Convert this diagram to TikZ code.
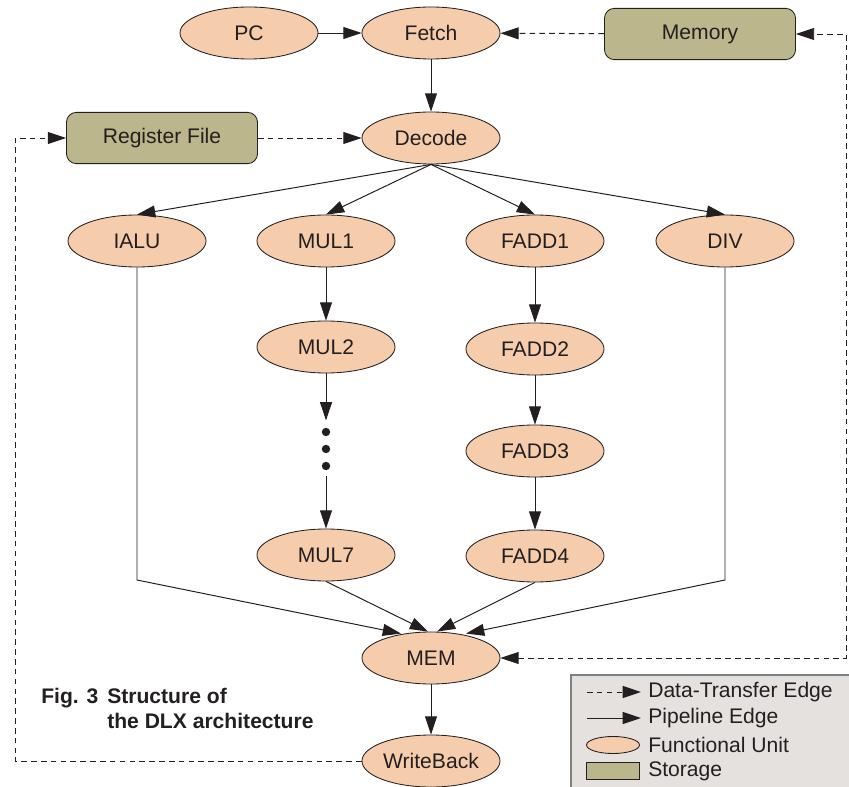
\documentclass[tikz,border=0pt]{standalone}
\usepackage{fontspec}
\setmainfont{Liberation Sans}
\usepackage{xcolor}
\definecolor{unitfill}{HTML}{F6CDAC}
\definecolor{storefill}{HTML}{BCB68C}
\definecolor{legendfill}{HTML}{E5E1DE}
\definecolor{inkcolor}{HTML}{231F20}
\usepackage{tikz}
\usetikzlibrary{arrows.meta, shapes.geometric, positioning, calc}

\tikzset{
  unit/.style={ellipse, draw=inkcolor, line width=0.6pt, fill=unitfill,
    minimum width=3.45cm, minimum height=1.3cm, inner sep=0pt,
    text=inkcolor, font=\fontsize{15}{18}\selectfont},
  storage/.style={rectangle, rounded corners=7pt, draw=inkcolor, line width=0.6pt,
    fill=storefill, minimum width=4.775cm, minimum height=1.28cm, inner sep=0pt,
    text=inkcolor, font=\fontsize{15}{18}\selectfont},
  tip/.tip={Triangle[length=13pt,width=8.5pt]},
  pipe/.style={draw=inkcolor, line width=0.7pt, -tip},
  transfer/.style={pipe, dash pattern=on 4pt off 3pt},
  dotnode/.style={circle, fill=inkcolor, inner sep=0pt, minimum size=6pt},
  lgtext/.style={anchor=west, inner sep=0pt, text=inkcolor, font=\fontsize{15}{18}\selectfont},
  captext/.style={anchor=base west, inner sep=0pt, text=inkcolor, font=\fontsize{15}{18}\selectfont\bfseries}
}

\begin{document}
\begin{tikzpicture}[x=0.025cm, y=-0.025cm]
  \useasboundingbox (0,0) rectangle (849,787);

  % top row and storage
  \node[unit] (pc) at (249,33) {PC};
  \node[unit] (fetch) at (431,33) {Fetch};
  \node[storage] (memory) at (700,34) {Memory};
  \node[storage] (regfile) at (162,138) {Register File};
  \node[unit] (decode) at (431,138) {Decode};

  % functional units
  \node[unit] (ialu) at (137,241) {IALU};
  \node[unit] (mul1) at (326,241) {MUL1};
  \node[unit] (fadd1) at (535,241) {FADD1};
  \node[unit] (div) at (725,241) {DIV};
  \node[unit] (mul2) at (326,347) {MUL2};
  \node[unit] (fadd2) at (535,349) {FADD2};
  \node[unit] (fadd3) at (535,451) {FADD3};
  \node[unit] (mul7) at (326,555) {MUL7};
  \node[unit] (fadd4) at (535,556) {FADD4};
  \node[unit] (mem) at (431,658) {MEM};
  \node[unit] (wb) at (431,761) {WriteBack};

  \node[dotnode] (dot1) at (326,432) {};
  \node[dotnode] (dot2) at (326,449) {};
  \node[dotnode] (dot3) at (326,466) {};

  % pipeline edges
  \draw[pipe] (pc) -- (fetch);
  \draw[pipe] (fetch) -- (decode);
  \draw[pipe] (decode.south) -- (ialu.north);
  \draw[pipe] (decode.south) -- (mul1.north);
  \draw[pipe] (decode.south) -- (fadd1.north);
  \draw[pipe] (decode.south) -- (div.north);
  \draw[pipe] (mul1) -- (mul2);
  \draw[pipe, shorten >=5pt] (mul2) -- (dot1);
  \draw[pipe, shorten <=4pt] (dot3) -- (mul7);
  \draw[pipe] (fadd1) -- (fadd2);
  \draw[pipe] (fadd2) -- (fadd3);
  \draw[pipe] (fadd3) -- (fadd4);
  \coordinate (ialubend) at (137,580);
  \coordinate (divbend) at (725,580);
  \draw[pipe] (ialu.south) -- (ialubend) -- ($(mem.north)+(-30,2)$);
  \draw[pipe] (mul7.south) -- ($(mem.north)+(-3,0)$);
  \draw[pipe] (fadd4.south) -- ($(mem.north)+(6,0)$);
  \draw[pipe] (div.south) -- (divbend) -- ($(mem.north)+(35,2)$);
  \draw[pipe] (mem) -- (wb);

  % data transfer edges
  \coordinate (leftcorner) at (15,138);
  \coordinate (rightcorner) at (846,34);
  \draw[transfer] (memory) -- (fetch);
  \draw[transfer] (regfile) -- (decode);
  \draw[transfer] (wb.west) -| (leftcorner) -- (regfile.west);
  \draw[transfer, tip-tip] (mem.east) -| (rightcorner) -- (memory.east);

  % caption
  \node[captext] (capnum) at (41,703) {Fig. 3};
  \node[captext] (captop) at (107,703) {Structure of};
  \node[captext] (capbot) at (107,728) {the DLX architecture};

  % legend
  \fill[legendfill] (571,675) rectangle (855,792);
  \draw[gray, line width=0.8pt] (571,675) rectangle (855,792);
  \coordinate (lgdashA) at (587,692);
  \coordinate (lgdashB) at (641,692);
  \coordinate (lgpipeA) at (587,718);
  \coordinate (lgpipeB) at (641,718);
  \draw[transfer] (lgdashA) -- (lgdashB);
  \draw[pipe] (lgpipeA) -- (lgpipeB);
  \node[unit, minimum width=1.325cm, minimum height=0.425cm] (lgunit) at (613,745) {};
  \node[storage, sharp corners, minimum width=1.325cm, minimum height=0.425cm] (lgstore) at (613,771) {};
  \node[lgtext] (lgtransfer) at (648,692) {Data-Transfer Edge};
  \node[lgtext] (lgpipe) at (648,718) {Pipeline Edge};
  \node[lgtext] (lgfu) at (648,745) {Functional Unit};
  \node[lgtext] (lgstorage) at (648,771) {Storage};
\end{tikzpicture}
\end{document}
